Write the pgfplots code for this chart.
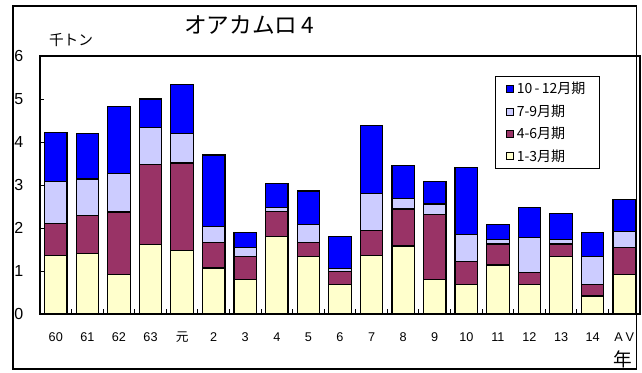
\documentclass[border=0pt]{standalone}
\usepackage{pgfplots}
\pgfplotsset{compat=1.18}
\usepackage{pgfplotstable}
\usepackage{fontspec}
\setmainfont{Liberation Sans}
\newfontfamily\jp{Noto Sans CJK JP}
\newlength{\px}\setlength{\px}{0.75pt}
\definecolor{qa}{HTML}{FFFFCC}
\definecolor{qb}{HTML}{993366}
\definecolor{qc}{HTML}{CCCCFF}
\definecolor{qd}{HTML}{0000FF}

% quarterly catch (thousand tonnes), one row per year
\pgfplotstableread{
x  q1   q2   q3   q4
0  1.36 0.75 0.98 1.13
1  1.40 0.89 0.85 1.05
2  0.92 1.45 0.89 1.56
3  1.62 1.86 0.85 0.67
4  1.48 2.03 0.68 1.15
5  1.07 0.60 0.36 1.67
6  0.81 0.53 0.21 0.34
7  1.81 0.57 0.10 0.56
8  1.34 0.33 0.41 0.78
9  0.69 0.30 0.07 0.75
10 1.36 0.58 0.87 1.57
11 1.58 0.86 0.25 0.77
12 0.80 1.52 0.24 0.52
13 0.69 0.53 0.62 1.57
14 1.14 0.49 0.11 0.34
15 0.69 0.27 0.82 0.70
16 1.33 0.30 0.11 0.60
17 0.42 0.27 0.65 0.55
18 0.92 0.63 0.37 0.75
}\data

\begin{document}
\begin{tikzpicture}
\useasboundingbox (0,0) rectangle (642\px,372\px);
\draw[line width=1.2\px] (13\px,3\px) rectangle (636.5\px,366\px);
\begin{axis}[
  at={(40\px,58\px)}, anchor=south west,
  scale only axis, width=600\px, height=258\px,
  xmin=-0.5, xmax=18.5, ymin=0, ymax=6,
  ybar stacked, bar width=22.5\px,
  axis line style={line width=1.5\px},
  ytick={0,...,6}, ytick pos=left,
  tick align=inside, major tick length=4\px, minor tick length=5\px,
  tick style={black, line width=1\px},
  xtick={0,...,18}, xtick pos=bottom,
  major x tick style={draw=none},
  minor xtick={0.5,1.5,...,17.5},
  xticklabels={60,61,62,63,{\jp 元},2,3,4,5,6,7,8,9,10,11,12,13,14,{A\hspace{3\px}V}},
  /pgf/number format/assume math mode=true,
  yticklabel style={anchor=west, inner sep=0pt, xshift=-26\px, font=\fontsize{12}{12}\selectfont},
  xticklabel style={anchor=center, inner sep=0pt, yshift=-23\px, font=\fontsize{9.5}{10}\selectfont},
  reverse legend,
  legend cell align=left,
  legend style={at={(0.758,0.922)}, anchor=north west, draw=black, line width=1\px,
    font=\jp\fontsize{10.5}{12}\selectfont, row sep=3.5\px, inner xsep=11\px, inner ysep=3\px},
  legend image code/.code={\draw[#1, draw=black, line width=0.8\px] (0\px,-3.5\px) rectangle (7\px,3.5\px);},
]
\addplot[fill=qa, draw=black, line width=1.2\px] table[x=x,y=q1]{\data};
\addplot[fill=qb, draw=black, line width=1.2\px] table[x=x,y=q2]{\data};
\addplot[fill=qc, draw=black, line width=1.2\px] table[x=x,y=q3]{\data};
\addplot[fill=qd, draw=black, line width=1.2\px] table[x=x,y=q4]{\data};
\legend{1-3月期,4-6月期,7-9月期,10\,-\,12月期}
\end{axis}
\node[font=\jp\fontsize{17}{17}\selectfont] at (249\px,346.5\px) {オアカムロ\,4};
\node[font=\jp\fontsize{11}{11}\selectfont] at (71\px,332\px) {千トン};
\node[font=\jp\fontsize{14}{14}\selectfont] at (623\px,13\px) {年};
\end{tikzpicture}
\end{document}
